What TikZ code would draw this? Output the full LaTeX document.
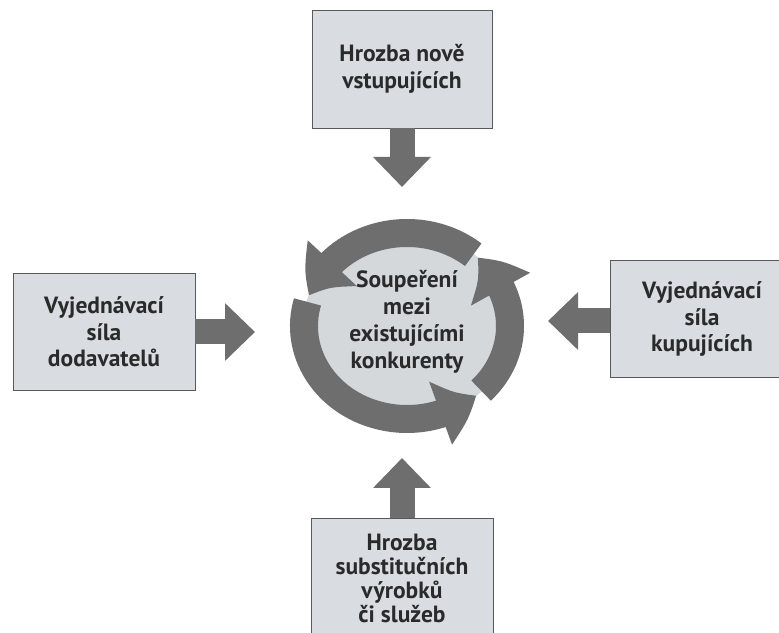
\documentclass[tikz,border=0pt]{standalone}
\usepackage{fontspec}
\setmainfont{PT Sans}
\usetikzlibrary{arrows.meta,bending}
\definecolor{forcegray}{HTML}{6E6E6E}
\definecolor{boxfill}{HTML}{D9DDE1}
\definecolor{discfill}{HTML}{D4D8DB}
\definecolor{inkgray}{HTML}{2A2A2A}

\begin{document}
\begin{tikzpicture}[x=1pt, y=1pt,
		forcebox/.style={draw=black!65, line width=0.8pt, fill=boxfill, align=center,
			minimum width=182pt, minimum height=117pt, text=inkgray,
			font=\bfseries\fontsize{23.5}{26.5}\selectfont},
		forcearrow/.style={draw=forcegray, line width=25pt,
			-{Triangle[width=56pt, length=30pt]}},
		ringarrow/.style={draw=forcegray, line width=28pt,
			-{Triangle[width=64pt, length=40pt, bend]}}]
			%%%%% START %%%%%
			
			\useasboundingbox[fill=white] (0, 0) rectangle (779, 632);
			
			% rivalry in the middle
			\coordinate (c) at (407, 306);
			\fill[discfill] (c) ellipse [x radius=104, y radius=94];
			\draw[ringarrow] ([shift={(50:103 and 93)}]c) arc[start angle=50, end angle=161, x radius=103, y radius=93];
			\draw[ringarrow] ([shift={(165:103 and 93)}]c) arc[start angle=165, end angle=312, x radius=103, y radius=93];
			\draw[ringarrow] ([shift={(316:103 and 93)}]c) arc[start angle=316, end angle=407, x radius=103, y radius=93];
			\node[align=center, text=inkgray, font=\bfseries\fontsize{23.5}{27}\selectfont] (rival) at (407, 310)
				{Soupeření\\mezi\\existujícími\\konkurenty};
			
			% the four forces
			\node[forcebox, minimum width=180pt, minimum height=118pt] (entrants) at (402, 563) {Hrozba nově\\vstupujících};
			\node[forcebox] (suppliers) at (104, 300) {Vyjednávací\\síla\\dodavatelů};
			\node[forcebox, minimum width=184pt] (buyers) at (702, 313) {Vyjednávací\\síla\\kupujících};
			\node[forcebox, anchor=north, minimum height=120pt,
				font=\bfseries\fontsize{23.5}{24}\selectfont] (substitutes) at (402, 114)
				{Hrozba\\substitučních\\výrobků\\či služeb};
			
			\coordinate (tipN) at (402, 445);
			\coordinate (tipW) at (255, 300);
			\coordinate (tipE) at (548, 311);
			\coordinate (tipS) at (402, 174);
			
			\draw[forcearrow] (entrants.south) -- (tipN);
			\draw[forcearrow] (suppliers.east) -- (tipW);
			\draw[forcearrow] (buyers.west |- tipE) -- (tipE);
			\draw[forcearrow] (substitutes.north) -- (tipS);
			
			%%%%% END %%%%%
		\end{tikzpicture}
\end{document}
